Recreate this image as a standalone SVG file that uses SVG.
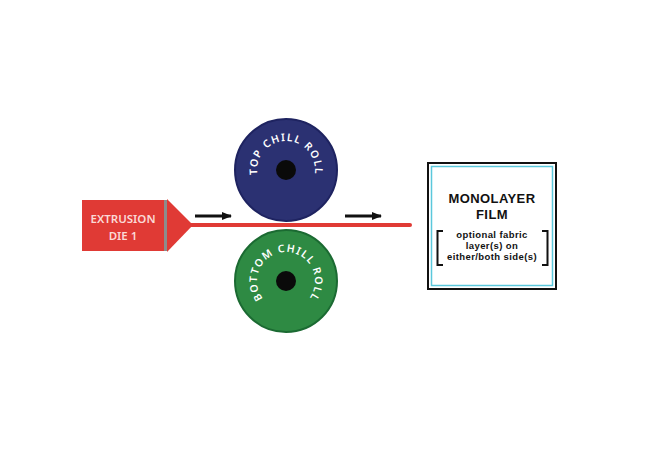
<svg xmlns="http://www.w3.org/2000/svg" width="645" height="451" viewBox="0 0 645 451">
<style>
.roll{font-family:"Noto Sans","Liberation Sans",sans-serif;font-size:10.5px;font-weight:600;fill:#ffffff;letter-spacing:1.3px}
.die{font-family:"Noto Sans","Liberation Sans",sans-serif;font-size:11.5px;font-weight:600;fill:#fbd9d5}
.t1{font-family:"Liberation Sans",Arial,sans-serif;font-size:13px;font-weight:700;fill:#111111;text-anchor:middle;letter-spacing:0.4px}
.t2{font-family:"Liberation Sans",Arial,sans-serif;font-size:9.5px;font-weight:700;fill:#111111;text-anchor:middle;letter-spacing:0.4px}
</style>
<defs>
<marker id="ah" markerWidth="10" markerHeight="8" refX="9" refY="4" orient="auto" markerUnits="userSpaceOnUse">
<path d="M0,0 L10,4 L0,8 Z" fill="#111111"/>
</marker>
<path id="arcTop" d="M286,199 A29,29 0 1 1 286,141 A29,29 0 1 1 286,199"/>
<path id="arcBot" d="M286,310 A29,29 0 1 1 286,252 A29,29 0 1 1 286,310"/>
</defs>
<rect width="645" height="451" fill="#ffffff"/>
<g id="connectors">
<line x1="188" y1="225" x2="410" y2="225" stroke="#e03a35" stroke-width="4" stroke-linecap="round"/>
<line x1="195" y1="216" x2="231" y2="216" stroke="#111111" stroke-width="3" marker-end="url(#ah)"/>
<line x1="345" y1="216" x2="381" y2="216" stroke="#111111" stroke-width="3" marker-end="url(#ah)"/>
</g>
<g id="die">
<polygon points="167,199 193,225 167,252" fill="#e03a35"/>
<rect x="82" y="200" width="83" height="51" fill="#e03a35"/>
<rect x="164" y="200" width="3" height="51" fill="#8c8c8c"/>
<text class="die" x="123" y="223" text-anchor="middle">EXTRUSION</text>
<text class="die" x="123" y="240" text-anchor="middle">DIE 1</text>
</g>
<g id="top-roll">
<circle cx="286" cy="170" r="51" fill="#2b3172" stroke="#1e2360" stroke-width="2"/>
<circle cx="286" cy="170" r="10" fill="#0a0a0a"/>
<text class="roll"><textPath href="#arcTop" startOffset="50%" text-anchor="middle">TOP CHILL ROLL</textPath></text>
</g>
<g id="bottom-roll">
<circle cx="286" cy="281" r="51" fill="#2e8a43" stroke="#1b6a32" stroke-width="2"/>
<circle cx="286" cy="281" r="10" fill="#0a0a0a"/>
<text class="roll"><textPath href="#arcBot" startOffset="50%" text-anchor="middle">BOTTOM CHILL ROLL</textPath></text>
</g>
<g id="film">
<rect x="428" y="163" width="128" height="126" fill="#ffffff" stroke="#111111" stroke-width="2"/>
<rect x="431.5" y="166.5" width="121" height="119" fill="none" stroke="#5bc8dc" stroke-width="1.5"/>
<text class="t1" x="492" y="203">MONOLAYER</text>
<text class="t1" x="492" y="219">FILM</text>
<text class="t2" x="492" y="238">optional fabric</text>
<text class="t2" x="492" y="249">layer(s) on</text>
<text class="t2" x="492" y="260">either/both side(s)</text>
<path d="M443,231 L437.5,231 L437.5,265 L443,265" fill="none" stroke="#111111" stroke-width="2"/>
<path d="M542,231 L547.5,231 L547.5,265 L542,265" fill="none" stroke="#111111" stroke-width="2"/>
</g>
</svg>
